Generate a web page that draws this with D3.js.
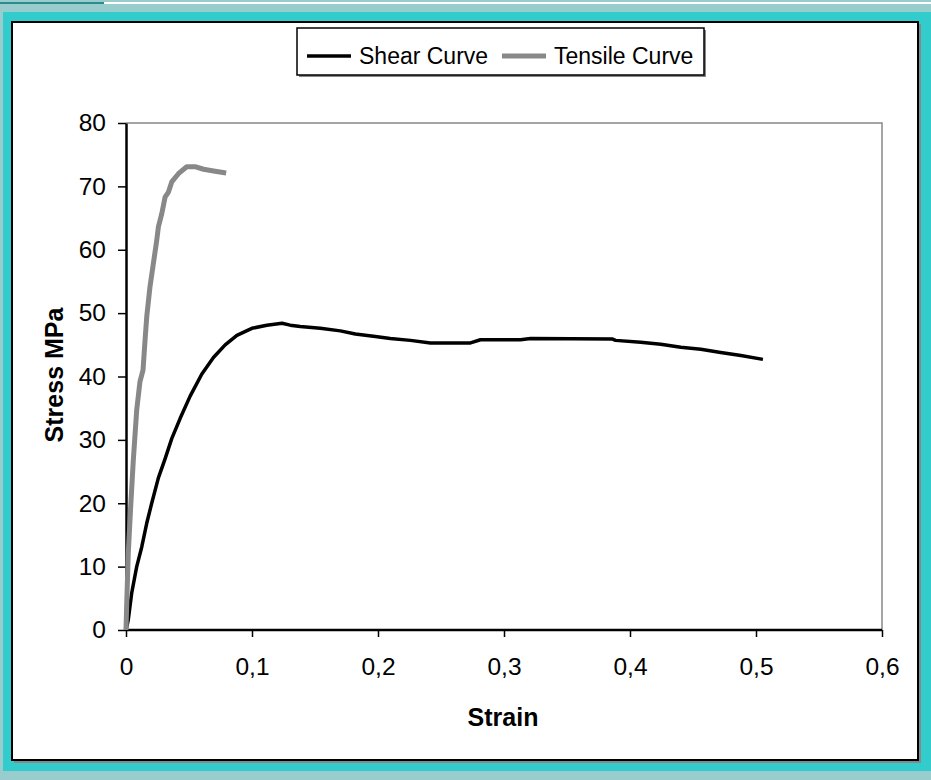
<!DOCTYPE html>
<html lang="en">
  <head>
    <meta charset="utf-8" />
    <title>Stress - Strain</title>
    <script src="https://cdn.jsdelivr.net/npm/d3@7/dist/d3.min.js"></script>
    <style>
      body { margin: 0; background: #99cccc; }
      svg { display: block; font-family: "Liberation Sans", Arial, sans-serif; }
      .tick text { font-size: 24.5px; fill: #000; }
    </style>
  </head>
  <body>
    <script>
      // shear curve
      var shearStrain = [0, 0.0018, 0.0045, 0.0085, 0.0125, 0.0164, 0.0204, 0.0257, 0.031, 0.0363,
        0.043, 0.0509, 0.0602, 0.0694, 0.0787, 0.088, 0.0999, 0.1118, 0.1238, 0.1303,
        0.1383, 0.1542, 0.1701, 0.182, 0.1979, 0.2098, 0.2257, 0.2416, 0.2734, 0.2813,
        0.3131, 0.3211, 0.3862, 0.3886, 0.4085, 0.4244, 0.4403, 0.4562, 0.472, 0.488, 0.5055];
      var shearStress = [0, 1.6, 5.8, 10, 13.1, 16.8, 20, 24.0, 27.0, 30.2,
        33.4, 36.9, 40.4, 43.0, 45, 46.5, 47.6, 48.1, 48.4, 48.1,
        47.9, 47.6, 47.2, 46.7, 46.3, 46.0, 45.7, 45.3, 45.3, 45.8,
        45.8, 46.0, 45.9, 45.7, 45.4, 45.1, 44.6, 44.3, 43.8, 43.3, 42.7];

      // tensile curve
      var tensileStrain = [0, 0.0005, 0.0018, 0.0037, 0.0058, 0.0085, 0.0111, 0.0135, 0.0151, 0.0165,
        0.019, 0.0217, 0.0244, 0.0257, 0.0284, 0.031, 0.0337, 0.0363, 0.0416, 0.0482,
        0.0548, 0.0615, 0.0707, 0.0795];
      var tensileStress = [0, 3.7, 12.1, 19.4, 26.8, 34.7, 39.2, 41.0, 45.7, 49.5,
        54.1, 57.8, 61.5, 63.6, 65.7, 68.3, 69.1, 70.7, 72.0, 73.1,
        73.1, 72.7, 72.4, 72.1];

      var xTicks = [0, 0.1, 0.2, 0.3, 0.4, 0.5, 0.6];
      var yTicks = [0, 10, 20, 30, 40, 50, 60, 70, 80];
      var seriesNames = ["Shear Curve", "Tensile Curve"];

      var W = 931, H = 780;
      var plot = { left: 126, right: 882, top: 123, bottom: 630 };

      var svg = d3.select("body").append("svg").attr("width", W).attr("height", H);

      // frame around the chart
      svg.append("rect").attr("width", W).attr("height", H).attr("fill", "#99cccc");
      svg.append("rect").attr("x", 0).attr("y", 2).attr("width", 104).attr("height", 2).attr("fill", "#2a8c8c");
      svg.append("rect").attr("x", 104).attr("y", 2).attr("width", W - 104).attr("height", 2).attr("fill", "#ffffff");
      svg.append("rect").attr("x", 3).attr("y", 12).attr("width", W - 3).attr("height", 759).attr("fill", "#33cccc");
      svg.append("rect").attr("x", 14).attr("y", 24).attr("width", 907).attr("height", 739).attr("fill", "#888");
      svg.append("rect").attr("x", 12).attr("y", 22).attr("width", 906).attr("height", 738)
        .attr("fill", "#fff").attr("stroke", "#000").attr("stroke-width", 2);

      var comma = d3.formatLocale({ decimal: ",", thousands: ".", grouping: [3], currency: ["", ""] });

      var x = d3.scaleLinear().domain([0, 0.6]).range([plot.left, plot.right]);
      var y = d3.scaleLinear().domain([0, 80]).range([plot.bottom, plot.top]);

      // plot area border (top / right in gray)
      svg.append("path")
        .attr("d", `M${plot.left},${plot.top}H${plot.right}V${plot.bottom}`)
        .attr("fill", "none").attr("stroke", "#888").attr("stroke-width", 1.5);

      var gX = svg.append("g").attr("transform", `translate(0,${plot.bottom})`)
        .call(d3.axisBottom(x).tickValues(xTicks).tickSize(7).tickPadding(21)
          .tickFormat(comma.format(".1~f")));
      var gY = svg.append("g").attr("transform", `translate(${plot.left},0)`)
        .call(d3.axisLeft(y).tickValues(yTicks).tickSize(8).tickPadding(12).tickSizeOuter(0));

      [gX, gY].forEach(function (g) {
        g.select(".domain").attr("stroke", "#000").attr("stroke-width", 2.5);
        g.selectAll(".tick line").attr("stroke", "#000").attr("stroke-width", 1.5);
        g.attr("font-family", null).attr("font-size", null);
      });
      gX.select(".domain").attr("d", `M${plot.left},0H${plot.right}`);

      var line = d3.line().x(d => x(d[0])).y(d => y(d[1]));

      var shear = d3.zip(shearStrain, shearStress);
      var tensile = d3.zip(tensileStrain, tensileStress);

      svg.append("path").datum(shear).attr("d", line)
        .attr("fill", "none").attr("stroke", "#000").attr("stroke-width", 3.5)
        .attr("stroke-linejoin", "round");
      svg.append("path").datum(tensile).attr("d", line)
        .attr("fill", "none").attr("stroke", "#888").attr("stroke-width", 5)
        .attr("stroke-linejoin", "round");

      // axis titles
      svg.append("text").attr("x", (plot.left + plot.right) / 2 - 1).attr("y", 726)
        .attr("text-anchor", "middle").attr("font-weight", "bold").attr("font-size", 25)
        .text("Strain");
      svg.append("text").attr("transform", "translate(63,375) rotate(-90)")
        .attr("text-anchor", "middle").attr("font-weight", "bold").attr("font-size", 25)
        .text("Stress MPa");

      // legend
      var leg = svg.append("g");
      leg.append("rect").attr("x", 299).attr("y", 30).attr("width", 407).attr("height", 47).attr("fill", "#888");
      leg.append("rect").attr("x", 297).attr("y", 28).attr("width", 407).attr("height", 47)
        .attr("fill", "#fff").attr("stroke", "#000").attr("stroke-width", 1.5);
      var legItems = [
        { name: seriesNames[0], x: 307, color: "#000", w: 3.5 },
        { name: seriesNames[1], x: 502, color: "#888", w: 5 }
      ];
      legItems.forEach(function (d) {
        leg.append("line").attr("x1", d.x).attr("x2", d.x + 44).attr("y1", 56).attr("y2", 56)
          .attr("stroke", d.color).attr("stroke-width", d.w);
        leg.append("text").attr("x", d.x + 52).attr("y", 64).attr("font-size", 23).text(d.name);
      });
    </script>
  </body>
</html>
